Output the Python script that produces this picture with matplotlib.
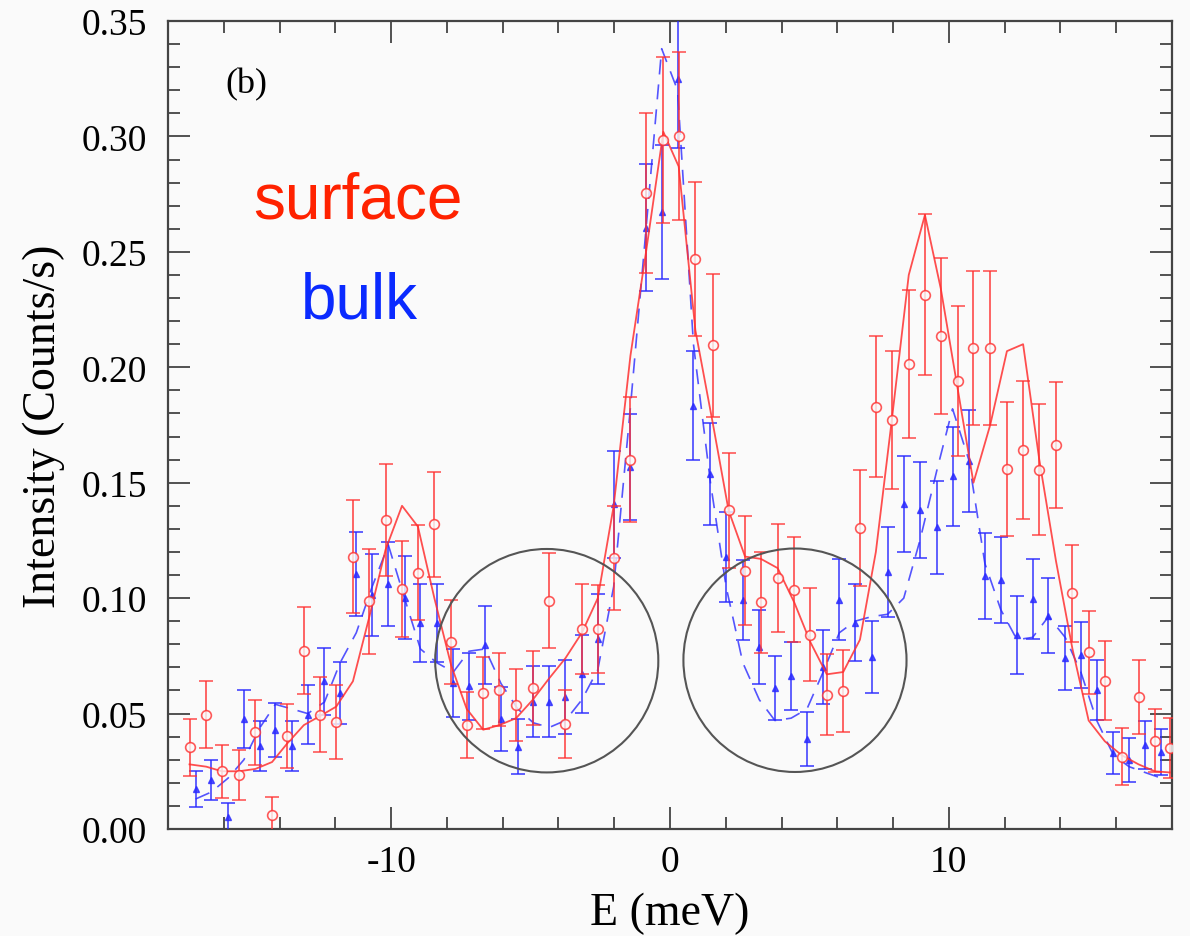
import numpy as np
import matplotlib.pyplot as plt
from matplotlib.patches import Ellipse
from matplotlib.ticker import MultipleLocator

# surface scan (open circles) and its fit
e_surf = [-17.23, -16.63, -16.07, -15.46, -14.87, -14.27, -13.73, -13.13, -12.54, -11.97,
          -11.37, -10.78, -10.20, -9.61, -9.04, -8.45, -7.85, -7.29, -6.70, -6.12,
          -5.52, -4.92, -4.35, -3.75, -3.16, -2.59, -2.02, -1.42, -0.86, -0.24,
          0.31, 0.91, 1.53, 2.10, 2.69, 3.26, 3.86, 4.46, 5.03, 5.62,
          6.21, 6.81, 7.38, 7.96, 8.56, 9.14, 9.71, 10.31, 10.88, 11.48,
          12.08, 12.66, 13.24, 13.84, 14.43, 15.01, 15.59, 16.19, 16.80, 17.38, 17.92]
i_surf = [0.0354, 0.0495, 0.0250, 0.0234, 0.0419, 0.0062, 0.0404, 0.0773, 0.0495, 0.0465,
          0.1180, 0.0987, 0.1340, 0.1040, 0.1110, 0.1320, 0.0809, 0.0452, 0.0589, 0.0604,
          0.0537, 0.0611, 0.0989, 0.0455, 0.0867, 0.0867, 0.1174, 0.1600, 0.2756, 0.2985,
          0.3003, 0.2470, 0.2095, 0.1380, 0.1119, 0.0982, 0.1088, 0.1036, 0.0842, 0.0581,
          0.0597, 0.1304, 0.1830, 0.1772, 0.2015, 0.2315, 0.2135, 0.1940, 0.2083, 0.2083,
          0.1560, 0.1642, 0.1556, 0.1664, 0.1021, 0.0766, 0.0643, 0.0313, 0.0571, 0.0383, 0.0351]
di_surf = [0.0123, 0.0145, 0.0114, 0.0108, 0.0140, 0.0078, 0.0139, 0.0190, 0.0162, 0.0160,
           0.0245, 0.0227, 0.0243, 0.0208, 0.0206, 0.0227, 0.0182, 0.0143, 0.0157, 0.0160,
           0.0157, 0.0160, 0.0207, 0.0146, 0.0194, 0.0190, 0.0225, 0.0270, 0.0347, 0.0360,
           0.0364, 0.0334, 0.0310, 0.0250, 0.0237, 0.0220, 0.0233, 0.0227, 0.0202, 0.0175,
           0.0177, 0.0250, 0.0305, 0.0300, 0.0320, 0.0347, 0.0337, 0.0326, 0.0334, 0.0334,
           0.0290, 0.0300, 0.0284, 0.0274, 0.0210, 0.0180, 0.0170, 0.0123, 0.0160, 0.0137, 0.0130]
fit_surf = [0.028, 0.027, 0.025, 0.025, 0.026, 0.029, 0.037, 0.045, 0.049, 0.053,
            0.064, 0.092, 0.121, 0.140, 0.131, 0.100, 0.071, 0.052, 0.043, 0.045,
            0.048, 0.056, 0.065, 0.074, 0.085, 0.100, 0.140, 0.205, 0.250, 0.302,
            0.287, 0.216, 0.176, 0.138, 0.118, 0.117, 0.113, 0.098, 0.081, 0.067,
            0.068, 0.082, 0.120, 0.178, 0.240, 0.266, 0.234, 0.191, 0.150, 0.175,
            0.207, 0.210, 0.160, 0.116, 0.078, 0.047, 0.038, 0.032, 0.028, 0.025, 0.0245]

# bulk scan (filled triangles) and its fit
e_bulk = [-17.01, -16.45, -15.85, -15.28, -14.70, -14.15, -13.56, -12.99, -12.39, -11.83,
          -11.25, -10.68, -10.10, -9.52, -8.95, -8.36, -7.77, -7.21, -6.63, -6.06,
          -5.46, -4.90, -4.33, -3.75, -3.16, -2.59, -2.02, -1.44, -0.86, -0.30,
          0.27, 0.84, 1.45, 2.01, 2.61, 3.20, 3.76, 4.34, 4.91, 5.49,
          6.07, 6.63, 7.23, 7.80, 8.38, 8.96, 9.56, 10.13, 10.71, 11.29,
          11.86, 12.44, 13.00, 13.57, 14.17, 14.73, 15.30, 15.90, 16.46, 17.03, 17.62]
i_bulk = [0.0173, 0.0212, 0.0053, 0.0477, 0.0361, 0.0429, 0.0361, 0.0495, 0.0640, 0.0588,
          0.1105, 0.1015, 0.1062, 0.1001, 0.0893, 0.0893, 0.0631, 0.0618, 0.0799, 0.0477,
          0.0357, 0.0552, 0.0552, 0.0571, 0.0672, 0.0823, 0.1406, 0.1567, 0.2605, 0.2672,
          0.3248, 0.1833, 0.1538, 0.1177, 0.0992, 0.0790, 0.0611, 0.0662, 0.0390, 0.0703,
          0.0994, 0.0893, 0.0744, 0.1112, 0.1408, 0.1382, 0.1307, 0.1527, 0.1593, 0.1095,
          0.1079, 0.0841, 0.0997, 0.0924, 0.0741, 0.0755, 0.0602, 0.0329, 0.0299, 0.0365, 0.0335]
di_bulk = [0.0079, 0.0085, 0.0060, 0.0126, 0.0108, 0.0117, 0.0108, 0.0128, 0.0146, 0.0134,
           0.0182, 0.0178, 0.0182, 0.0180, 0.0169, 0.0169, 0.0147, 0.0146, 0.0169, 0.0139,
           0.0118, 0.0153, 0.0153, 0.0159, 0.0168, 0.0193, 0.0230, 0.0230, 0.0275, 0.0290,
           0.0300, 0.0236, 0.0220, 0.0194, 0.0172, 0.0160, 0.0140, 0.0148, 0.0117, 0.0160,
           0.0177, 0.0167, 0.0157, 0.0195, 0.0207, 0.0208, 0.0202, 0.0215, 0.0222, 0.0186,
           0.0187, 0.0170, 0.0173, 0.0163, 0.0139, 0.0143, 0.0128, 0.0092, 0.0094, 0.0103, 0.0100]
fit_bulk = [0.013, 0.016, 0.022, 0.030, 0.044, 0.054, 0.052, 0.050, 0.055, 0.072,
            0.085, 0.105, 0.123, 0.100, 0.078, 0.072, 0.068, 0.077, 0.078, 0.063,
            0.052, 0.046, 0.044, 0.047, 0.056, 0.069, 0.105, 0.180, 0.260, 0.338,
            0.320, 0.210, 0.150, 0.105, 0.072, 0.056, 0.047, 0.048, 0.052, 0.068,
            0.085, 0.090, 0.092, 0.093, 0.100, 0.125, 0.155, 0.182, 0.160, 0.115,
            0.095, 0.082, 0.083, 0.092, 0.083, 0.068, 0.047, 0.032, 0.027, 0.0245, 0.022]

# regions of interest (center E, center I)
circle_centers = [(-4.42, 0.0729), (4.48, 0.0731)]

red = '#ff3030'
blue = '#2a2aff'
bg = '#fafafa'

plt.rcParams['font.family'] = ['Liberation Serif', 'DejaVu Serif']
plt.rcParams['axes.unicode_minus'] = False

fig = plt.figure(figsize=(11.9, 9.37), dpi=100, facecolor=bg)
ax = fig.add_axes([0.1412, 0.1142, 0.8437, 0.8623], facecolor=bg)

ax.plot(e_bulk, fit_bulk, color=blue, lw=1.2, dashes=(9, 6), alpha=0.8, zorder=2)
ax.errorbar(e_bulk, i_bulk, yerr=di_bulk, fmt='^', color=blue, ms=4.5,
            elinewidth=1.3, capsize=5, capthick=1.3, alpha=0.8, zorder=3)

ax.plot(e_surf, fit_surf, color=red, lw=1.3, alpha=0.85, zorder=4)
ax.errorbar(e_surf, i_surf, yerr=di_surf, fmt='o', color=red, mfc=bg, mec=red,
            mew=1.2, ms=7, elinewidth=1.3, capsize=5, capthick=1.3, alpha=0.8, zorder=5)

for cx, cy in circle_centers:
    ax.add_patch(Ellipse((cx, cy), 8.0, 0.0968, fill=False, ec='#555555', lw=1.5, zorder=6))

ax.set_xlim(-18, 18)
ax.set_ylim(0, 0.35)
ax.xaxis.set_major_locator(MultipleLocator(10))
ax.xaxis.set_minor_locator(MultipleLocator(2))
ax.yaxis.set_major_locator(MultipleLocator(0.05))
ax.yaxis.set_minor_locator(MultipleLocator(0.01))
ax.yaxis.set_major_formatter(plt.FormatStrFormatter('%.2f'))
ax.tick_params(which='both', direction='in', top=True, right=True, colors='#444444',
               labelcolor='black', labelsize=27)
ax.tick_params(which='major', length=16, width=1.3, pad=11)
ax.tick_params(axis='y', which='major', pad=15)
ax.tick_params(which='minor', length=8.5, width=1.3)
for s in ax.spines.values():
    s.set_color('#444444')
    s.set_linewidth(1.6)

ax.set_xlabel('E (meV)', fontsize=33, labelpad=9)
ax.set_ylabel('Intensity (Counts/s)', fontsize=33, labelpad=12)

ax.text(-15.95, 0.323, '(b)', fontsize=26, ha='left', va='center')
ax.text(-14.95, 0.265, 'surface', fontsize=46, color='#ff2200', family='Liberation Sans',
        ha='left', va='baseline')
ax.text(-13.25, 0.2215, 'bulk', fontsize=46, color='#0a2aff', family='Liberation Sans',
        ha='left', va='baseline')

fig.savefig('out.png', dpi=100, facecolor=bg)
